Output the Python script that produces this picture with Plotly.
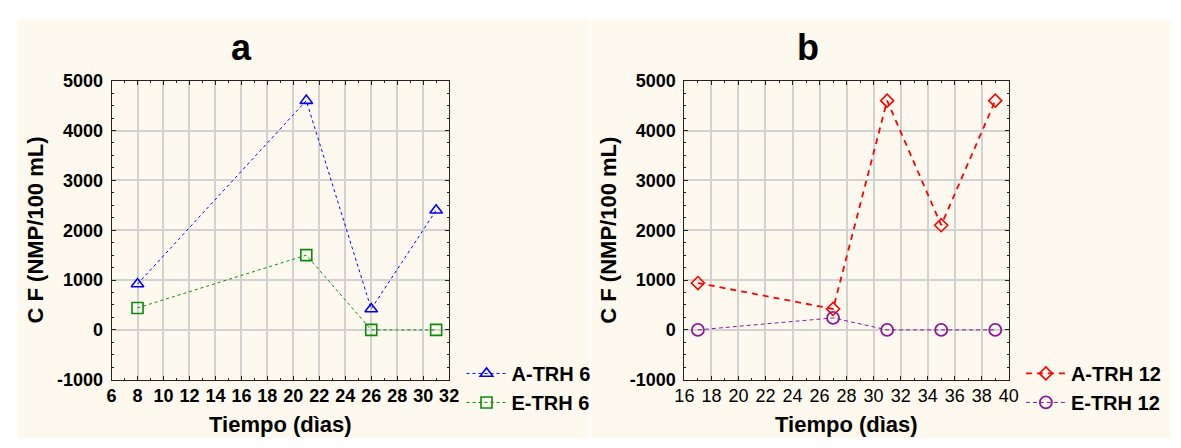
import plotly.graph_objects as go

W, H = 1181, 448

# ---- data ----
days_a = [8, 21, 26, 31]
a_trh6 = [920, 4600, 420, 2400]
e_trh6 = [440, 1500, 0, 0]

days_b = [17, 27, 31, 35, 39]
a_trh12 = [940, 420, 4600, 2100, 4600]
e_trh12 = [0, 240, 0, 0, 0]

xticks_a = list(range(6, 33, 2))
xticks_b = list(range(16, 41, 2))
yticks = list(range(-1000, 5001, 1000))
ytick_labels = [str(v) for v in yticks]  # plain hyphen-minus, as in the reference

FONT = "Liberation Sans, Arial, sans-serif"
CREAM = "#fdf9ee"

def px(x):
    return x / W

def py(y):
    return 1 - y / H

fig = go.Figure()

fig.add_trace(go.Scatter(x=days_a, y=a_trh6, name="A-TRH 6", mode="lines+markers",
                         line=dict(color="#0000ff", width=1, dash="3px,3px"),
                         marker=dict(symbol="triangle-up-open", size=11, color="#0000ff",
                                     line=dict(width=1.6, color="#0000ff")),
                         xaxis="x", yaxis="y", legend="legend"))
fig.add_trace(go.Scatter(x=days_a, y=e_trh6, name="E-TRH 6", mode="lines+markers",
                         line=dict(color="#0a8a0a", width=1, dash="3px,3px"),
                         marker=dict(symbol="square-open", size=11, color="#0a8a0a",
                                     line=dict(width=1.6, color="#0a8a0a")),
                         xaxis="x", yaxis="y", legend="legend"))
fig.add_trace(go.Scatter(x=days_b, y=a_trh12, name="A-TRH 12", mode="lines+markers",
                         line=dict(color="#ff0000", width=1.8, dash="6px,5px"),
                         marker=dict(symbol="diamond-open", size=10, color="#ff0000",
                                     line=dict(width=1.6, color="#ff0000")),
                         xaxis="x2", yaxis="y2", legend="legend2"))
fig.add_trace(go.Scatter(x=days_b, y=e_trh12, name="E-TRH 12", mode="lines+markers",
                         line=dict(color="#8a1a9a", width=1, dash="4px,3px"),
                         marker=dict(symbol="circle-open", size=12, color="#8a1a9a",
                                     line=dict(width=1.8, color="#8a1a9a")),
                         xaxis="x2", yaxis="y2", legend="legend2"))

axis_common = dict(showgrid=True, gridcolor="#d2d2d2", gridwidth=1.8,
                   showline=True, linecolor="#222", linewidth=1, mirror="ticks",
                   ticks="inside", ticklen=4, tickcolor="#222", zeroline=False)
minor_x = dict(dtick=1, ticks="inside", ticklen=2, tickcolor="#222", showgrid=False)
minor_y = dict(dtick=250, ticks="inside", ticklen=2, tickcolor="#222", showgrid=False)

ydom = [py(387), py(74)]
fig.update_layout(
    autosize=True,
    margin=dict(l=0, r=0, t=0, b=0),
    paper_bgcolor="white", plot_bgcolor="white",
    font=dict(family=FONT, color="black"),
    xaxis=dict(domain=[px(103.3), px(446.7)], range=[6, 32], tickvals=xticks_a,
               anchor="y", tickfont=dict(size=18, family=FONT, weight="bold"),
               minor=minor_x, ticklabelstandoff=0, **axis_common),
    yaxis=dict(domain=ydom, range=[-1000, 5000], tickvals=yticks, ticktext=ytick_labels,
               anchor="x", tickfont=dict(size=18, family=FONT, weight="bold"),
               minor=minor_y, ticklabelstandoff=4, **axis_common),
    xaxis2=dict(domain=[px(686), px(1016)], range=[16, 40], tickvals=xticks_b,
                anchor="y2", tickfont=dict(size=18, family=FONT),
                minor=minor_x, ticklabelstandoff=0, **axis_common),
    yaxis2=dict(domain=ydom, range=[-1000, 5000], tickvals=yticks, ticktext=ytick_labels,
                anchor="x2", tickfont=dict(size=18, family=FONT, weight="bold"),
                minor=minor_y, ticklabelstandoff=4, **axis_common),
    legend=dict(x=px(459.3), y=py(360), xanchor="left", yanchor="top",
                bgcolor="rgba(0,0,0,0)", font=dict(size=20, family=FONT, weight="bold"),
                tracegroupgap=0, itemwidth=40),
    legend2=dict(x=px(1028.3), y=py(360), xanchor="left", yanchor="top",
                 bgcolor="rgba(0,0,0,0)", font=dict(size=20, family=FONT, weight="bold"),
                 tracegroupgap=0, itemwidth=40),
    showlegend=True,
)

# panel backgrounds
fig.add_shape(type="rect", xref="paper", yref="paper", x0=px(7), x1=px(589.3), y0=0, y1=py(10),
              fillcolor=CREAM, line=dict(width=0), layer="below")
fig.add_shape(type="rect", xref="paper", yref="paper", x0=px(591.3), x1=1, y0=0, y1=py(10),
              fillcolor=CREAM, line=dict(width=0), layer="below")

ann = []
for txt, x in [("a", 235.5), ("b", 812)]:
    ann.append(dict(text=txt, x=px(x), y=py(39.5), xref="paper", yref="paper", showarrow=False,
                    xanchor="center", yanchor="middle",
                    font=dict(size=36, family=FONT, weight="bold")))
for x in [275, 851]:
    ann.append(dict(text="Tiempo (dìas)", x=px(x), y=py(434), xref="paper", yref="paper",
                    showarrow=False, xanchor="center", yanchor="middle",
                    font=dict(size=22, family=FONT, weight="bold")))
for x in [25.7, 608.8]:
    ann.append(dict(text="C F (NMP/100 mL)", x=px(x), y=py(230.5), xref="paper", yref="paper",
                    showarrow=False, xanchor="center", yanchor="middle", textangle=-90,
                    font=dict(size=22, family=FONT, weight="bold")))
fig.update_layout(annotations=ann)

post = (
    "var gd=document.getElementById('{plot_id}');"
    "document.documentElement.style.height='100%';"
    "document.documentElement.style.overflow='hidden';"
    "document.body.style.height='100%';"
    "document.body.style.margin='0';"
    "document.body.style.overflow='hidden';"
    "gd.parentElement.style.height='100%';"
    "gd.style.height='100%';gd.style.width='100%';"
    "Plotly.Plots.resize(gd);"
)

fig.write_html("out.html",
               config={"displayModeBar": False, "responsive": True},
               default_width="100%", default_height="100%",
               post_script=post)
